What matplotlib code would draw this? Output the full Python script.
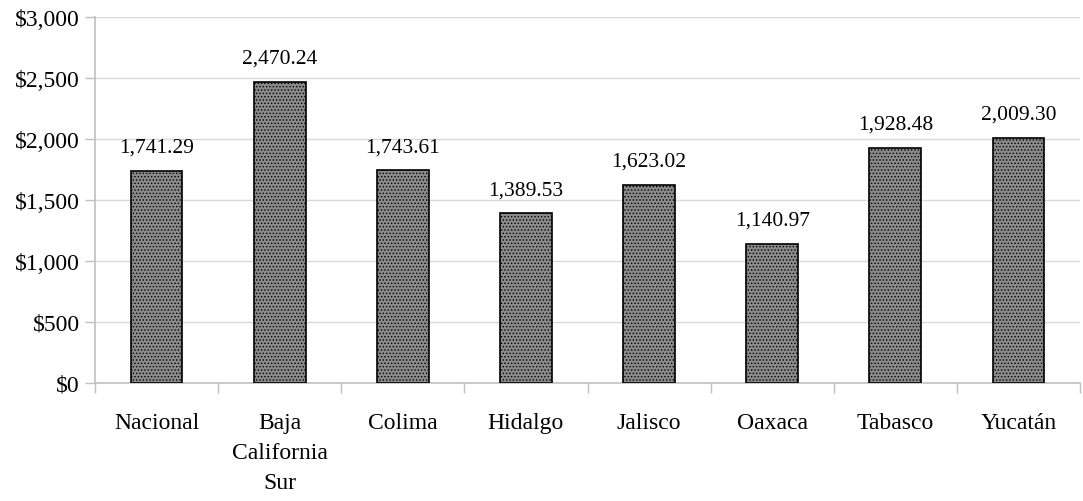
import matplotlib
matplotlib.use("Agg")
import matplotlib.pyplot as plt
import numpy as np

plt.rcParams['font.family'] = ['Liberation Serif', 'DejaVu Serif']
plt.rcParams['hatch.color'] = '#ffffff'
plt.rcParams['hatch.linewidth'] = 0.6

# data
estados = ['Nacional', 'Baja\nCalifornia\nSur', 'Colima', 'Hidalgo', 'Jalisco',
           'Oaxaca', 'Tabasco', 'Yucatán']
valores = [1741.29, 2470.24, 1743.61, 1389.53, 1623.02, 1140.97, 1928.48, 2009.30]
yticks = [0, 500, 1000, 1500, 2000, 2500, 3000]

fig = plt.figure(figsize=(10.83, 5.02), dpi=100)
ax = fig.add_axes([95 / 1083, 1 - 384 / 502, 985 / 1083, 366 / 502])

x = np.arange(len(estados))
bars = ax.bar(x, valores, width=0.42, color='#8a8a8a', edgecolor='black',
              linewidth=1.2, hatch='.....', zorder=3)

for xi, v in zip(x, valores):
    ax.text(xi, v + 115, f'{v:,.2f}', ha='center', va='bottom', fontsize=15.5)

ax.set_xlim(-0.5, len(estados) - 0.5)
ax.set_ylim(0, 3000)
ax.set_yticks(yticks)
ax.set_yticklabels([f'${t:,}' for t in yticks], fontsize=17)
ax.grid(axis='y', color='#d9d9d9', linewidth=1, zorder=0)

# category boundary ticks below the axis
ax.set_xticks(np.arange(len(estados) + 1) - 0.5, minor=False)
ax.set_xticklabels([])
ax.tick_params(axis='x', length=7, color='#c0c0c0', width=1)
ax.tick_params(axis='y', length=7, color='#c0c0c0', width=1, pad=4)
for xi, lab in zip(x, estados):
    ax.text(xi, -0.08, lab, transform=ax.get_xaxis_transform(), ha='center',
            va='top', fontsize=17, linespacing=1.55)

for s in ['top', 'right']:
    ax.spines[s].set_visible(False)
for s in ['left', 'bottom']:
    ax.spines[s].set_color('#c0c0c0')
    ax.spines[s].set_linewidth(1.2)

fig.savefig('out.png', dpi=100)
